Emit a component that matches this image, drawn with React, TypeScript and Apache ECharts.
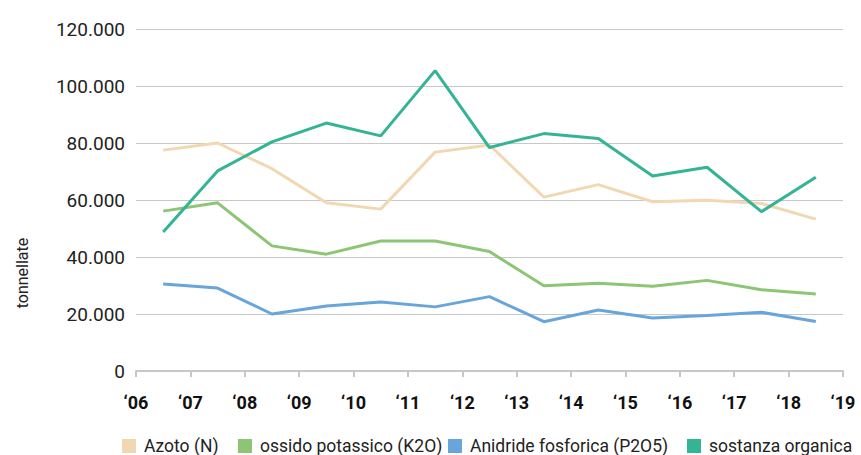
import React, { useEffect, useRef } from "react";
import * as echarts from "echarts";

const years = ["2006", "2007", "2008", "2009", "2010", "2011", "2012", "2013", "2014", "2015", "2016", "2017", "2018"];
const tickLabels = ["‘06", "‘07", "‘08", "‘09", "‘10", "‘11", "‘12", "‘13", "‘14", "‘15", "‘16", "‘17", "‘18", "‘19"];
const azoto = [77500, 80000, 71000, 59000, 56800, 76800, 79300, 61000, 65400, 59400, 59900, 58800, 53300];
const potassico = [56100, 59000, 43900, 41000, 45600, 45600, 41900, 29900, 30800, 29700, 31800, 28500, 27000];
const fosforica = [30500, 29100, 20000, 22800, 24200, 22500, 26100, 17300, 21400, 18600, 19500, 20600, 17400];
const organica = [48800, 70200, 80400, 87000, 82500, 105400, 78400, 83300, 81600, 68400, 71500, 55900, 68000];
const seriesNames = ["Azoto (N)", "ossido potassico (K2O)", "Anidride fosforica (P2O5)", "sostanza organica"];
const colors = ["#F2D8B2", "#8CC573", "#68A5DB", "#33B494"];
const legendLefts = [122, 238, 448, 687];

const FONT = "Roboto";

export default function App() {
  const ref = useRef<HTMLDivElement>(null);
  useEffect(() => {
    if (!ref.current) return;
    const chart = echarts.init(ref.current, undefined, { renderer: "svg" });
    const data = [azoto, potassico, fosforica, organica];
    chart.setOption({
      animation: false,
      textStyle: { fontFamily: FONT },
      grid: { left: 136, right: 18, top: 29, bottom: 84 },
      legend: seriesNames.map((name, i) => ({
        left: legendLefts[i],
        top: 437,
        padding: 0,
        itemWidth: 14,
        itemHeight: 14,
        icon: "rect",
        textStyle: { fontFamily: FONT, fontSize: 17.5, color: "#222", padding: [0, 0, 0, 3] },
        data: [name],
      })),
      xAxis: {
        type: "category",
        data: years,
        boundaryGap: true,
        axisLine: { lineStyle: { color: "#c8c8c8", width: 2 } },
        axisTick: { show: true, length: 6, lineStyle: { color: "#c8c8c8", width: 2 } },
        axisLabel: { show: false },
      },
      yAxis: {
        type: "value",
        min: 0,
        max: 120000,
        interval: 20000,
        axisLine: { show: false },
        axisTick: { show: false },
        splitLine: { lineStyle: { color: "#c8c8c8", width: 1 } },
        axisLabel: {
          margin: 11,
          fontFamily: FONT,
          fontSize: 19,
          color: "#222",
          formatter: (v: number) => String(v).replace(/\B(?=(\d{3})+(?!\d))/g, "."),
        },
      },
      graphic: [
        {
          type: "text",
          x: 22,
          y: 273,
          rotation: Math.PI / 2,
          style: {
            text: "tonnellate",
            fontFamily: FONT,
            fontSize: 16,
            fill: "#222",
            align: "center",
            verticalAlign: "middle",
          },
        },
        ...tickLabels.map((t, i) => ({
          type: "text",
          x: 136 + (707 / 13) * i,
          y: 402,
          style: {
            text: t,
            fontFamily: FONT,
            fontSize: 18,
            fontWeight: "bold",
            fill: "#111",
            align: "center",
            verticalAlign: "middle",
          },
        })),
      ],
      series: seriesNames.map((name, i) => ({
        name,
        type: "line",
        data: data[i],
        symbol: "none",
        color: colors[i],
        lineStyle: { width: 3, color: colors[i] },
      })),
    });
    return () => chart.dispose();
  }, []);
  return <div ref={ref} style={{ width: 861, height: 455, position: "absolute", left: 0, top: 0 }} />;
}
